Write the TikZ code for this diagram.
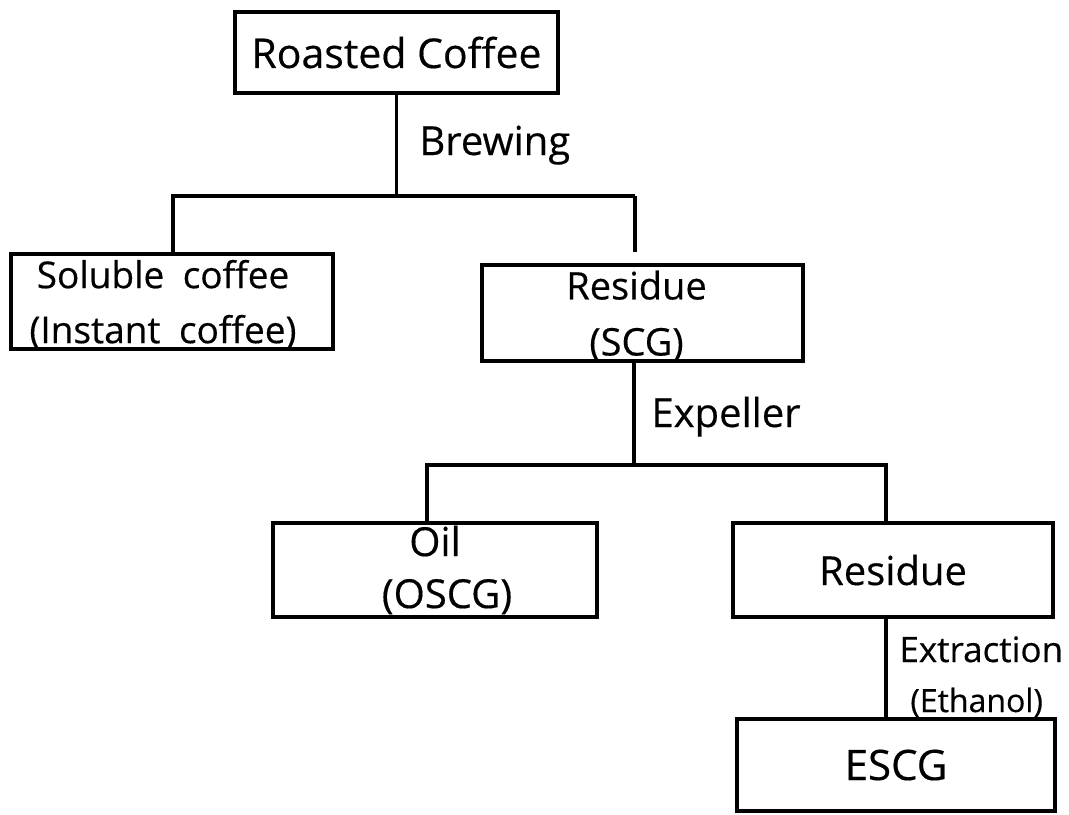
\documentclass[tikz,border=0pt]{standalone}
\usepackage{fontspec}
\setmainfont{Open Sans}[FakeBold=0.4]
\usetikzlibrary{math,calc}

\begin{document}
\begin{tikzpicture}[x=0.5pt,y=-0.5pt,
    box/.style={draw,line width=1.8pt,inner sep=0pt,align=center},
    link/.style={line width=1.6pt},
    tag/.style={anchor=base west,inner sep=0pt}]
    % The page
    \tikzmath{\ya=196;\yb=465;}
    \useasboundingbox (0,0) rectangle (1069,814);
    % The boxes
    \node[box,minimum width=161.5pt,minimum height=40.5pt,
      font=\fontsize{20.5}{24}\selectfont] (roasted) at (396.5,52.5) {Roasted Coffee};
    \node[box,minimum width=161pt,minimum height=47.5pt,text depth=0pt,
      font=\fontsize{18.5}{27.5}\selectfont] (soluble) at (172,301.5)
      {\hspace*{-9pt}Soluble\enspace coffee\\\hspace*{-9pt}(Instant\enspace coffee)};
    \node[box,minimum width=160.5pt,minimum height=48pt,text depth=0pt,
      font=\fontsize{19}{28}\selectfont] (residue) at (642.5,313)
      {\hspace*{-6pt}Residue\\\hspace*{-6pt}(SCG)};
    \node[box,minimum width=162pt,minimum height=47pt,
      font=\fontsize{20}{26}\selectfont] (oil) at (435,570)
      {Oil\\\hspace*{12pt}(OSCG)};
    \node[box,minimum width=160pt,minimum height=47pt,
      font=\fontsize{20}{24}\selectfont] (residueb) at (893,570) {Residue};
    \node[box,minimum width=159pt,minimum height=46pt,
      font=\fontsize{21}{24}\selectfont] (escg) at (896,765) {ESCG};
    % The split points
    \coordinate (brewL) at (173,\ya);
    \coordinate (brewR) at (635,\ya);
    \coordinate (expL) at (427,\yb);
    \coordinate (expM) at (634,\yb);
    \coordinate (expR) at (886,\yb);
    % The connectors
    \draw[link] (roasted.south) -- (roasted.south |- brewL);
    \draw[link] (soluble.north -| brewL) -- (brewL) -- (brewR);
    \draw[link,shorten >=5.5pt] (brewR) -- (brewR |- residue.north);
    \draw[link] (residue.south -| expM) -- (expM);
    \draw[link] (oil.north -| expL) -- (expL) -- (expR) -- (residueb.north -| expR);
    \draw[link] (residueb.south -| expR) -- (escg.north -| expR);
    % The labels
    \node[tag,font=\fontsize{20}{24}\selectfont] (brewing) at (419,155) {Brewing};
    \node[tag,font=\fontsize{20}{24}\selectfont] (expeller) at (651,427) {Expeller};
    \node[tag,font=\fontsize{17.5}{20}\selectfont] (extraction) at (899,662) {Extraction};
    \node[tag,font=\fontsize{16}{20}\selectfont] (ethanol) at (910,712) {(Ethanol)};
\end{tikzpicture}
\end{document}
